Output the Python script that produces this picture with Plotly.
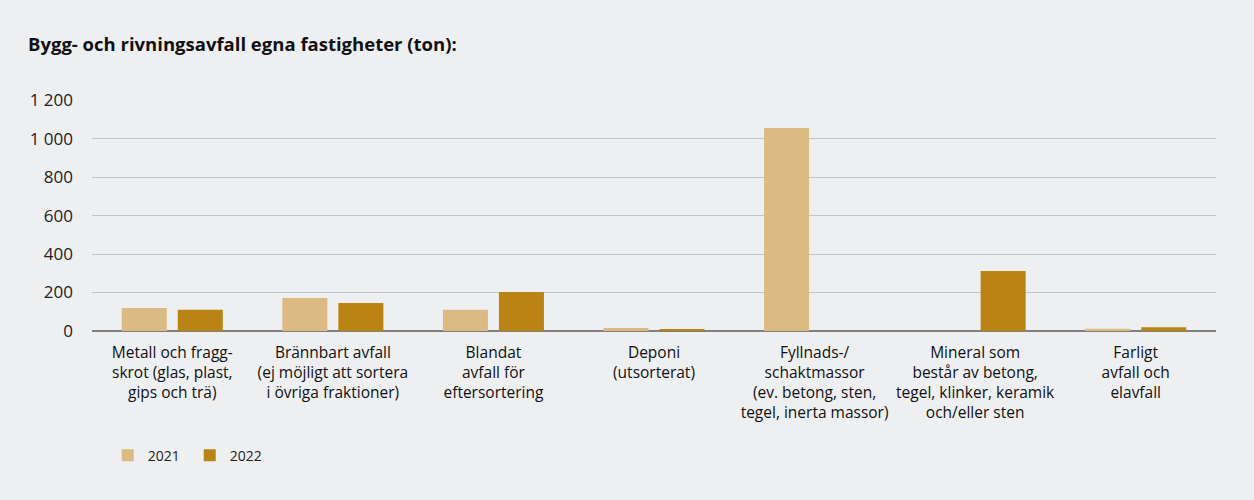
import plotly.graph_objects as go

categories = [
    "Metall och fragg-<br>skrot (glas, plast,<br>gips och trä)",
    "Brännbart avfall<br>(ej möjligt att sortera<br>i övriga fraktioner)",
    "Blandat<br>avfall för<br>eftersortering",
    "Deponi<br>(utsorterat)",
    "Fyllnads-/<br>schaktmassor<br>(ev. betong, sten,<br>tegel, inerta massor)",
    "Mineral som<br>består av betong,<br>tegel, klinker, keramik<br>och/eller sten",
    "Farligt<br>avfall och<br>elavfall",
]
values_2021 = [120, 172, 110, 15, 1055, 0, 12]
values_2022 = [110, 145, 203, 7, 0, 312, 20]
y_tickvals = [0, 200, 400, 600, 800, 1000, 1200]
y_ticktext = ["0", "200", "400", "600", "800", "1 000", "1 200"]

FONT = "Open Sans"
fig = go.Figure()
fig.add_trace(go.Bar(name="2021", x=categories, y=values_2021,
                     marker=dict(color="#DBBB82", line=dict(width=0))))
fig.add_trace(go.Bar(name="2022", x=categories, y=values_2022,
                     marker=dict(color="#B98413", line=dict(width=0))))

fig.update_layout(
    width=1254, height=500,
    paper_bgcolor="#EEEFF1", plot_bgcolor="#EEEFF1",
    margin=dict(l=92, r=38, t=100, b=169),
    barmode="group", bargap=0.3025, bargroupgap=0.196,
    font=dict(family=FONT, size=15, color="#111111"),
    title=dict(text="<b>Bygg- och rivningsavfall egna fastigheter (ton):</b>",
               x=28/1254, xanchor="left", y=1-45/500, yanchor="middle",
               font=dict(family=FONT, size=18.5, color="#111111")),
    showlegend=True,
    legend=dict(orientation="h", x=0.014, xanchor="left", y=-0.54, yanchor="middle",
                font=dict(size=14, color="#222222"), itemwidth=30,
                entrywidth=37, entrywidthmode="pixels",
                bgcolor="rgba(0,0,0,0)"),
)
fig.update_yaxes(range=[0, 1201], tickvals=y_tickvals, ticktext=y_ticktext,
                 showgrid=True, gridcolor="#C4C4C4", gridwidth=1,
                 zeroline=True, zerolinecolor="#7F7F7F", zerolinewidth=1.5,
                 showline=False, ticks="", ticklabelstandoff=18,
                 tickfont=dict(size=17, color="#222222"))
fig.update_xaxes(showgrid=False, showline=False, ticks="",
                 ticklabelstandoff=10, tickangle=0,
                 tickfont=dict(size=15.5, color="#111111"))

fig.write_html("out.html", config={"displayModeBar": False},
               post_script="document.body.style.margin='0';")
